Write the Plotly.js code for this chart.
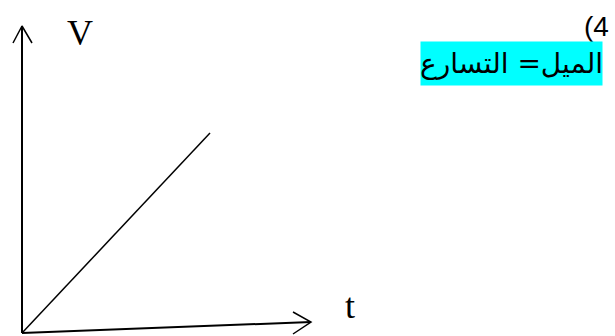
<!DOCTYPE html>
<html>
<head>
<meta charset="utf-8">
<script src="https://cdn.plot.ly/plotly-3.0.1.min.js"></script>
<style>
  html, body { margin: 0; padding: 0; background: #fff; }
  #plot { width: 615px; height: 336px; }
</style>
</head>
<body>
<div id="plot"></div>
<script>
// V-t sketch: origin at (0,0), units roughly in pixels
let vAxisX = [0, 0];
let vAxisY = [0, 307];
let vHeadX = [-9, 0, 10];
let vHeadY = [290, 307, 290];

let tAxisX = [0, 289];
let tAxisY = [0, 11];
let tHeadX = [271, 289, 271];
let tHeadY = [21, 11, -1];

let lineX = [0, 188];
let lineY = [0, 200];

let lineStyle = { color: '#000', width: 2 };

let data = [
    { x: vAxisX, y: vAxisY, mode: 'lines', line: lineStyle },
    { x: vHeadX, y: vHeadY, mode: 'lines', line: { color: '#000', width: 1.5 } },
    { x: tAxisX, y: tAxisY, mode: 'lines', line: lineStyle },
    { x: tHeadX, y: tHeadY, mode: 'lines', line: { color: '#000', width: 1.5 } },
    { x: lineX, y: lineY, mode: 'lines', line: { color: '#000', width: 1.5 } }
];

let layout = {
    width: 615,
    height: 336,
    showlegend: false,
    paper_bgcolor: '#fff',
    plot_bgcolor: '#fff',
    margin: { l: 0, r: 0, t: 0, b: 0, pad: 0 },
    xaxis: { range: [-22, 593], visible: false, fixedrange: true },
    yaxis: { range: [-3, 336 - 3], visible: false, fixedrange: true },
    annotations: [
        {
            x: 58, y: 300, xref: 'x', yref: 'y', text: 'V', showarrow: false,
            font: { family: 'Liberation Serif, Times New Roman, serif', size: 36, color: '#000' }
        },
        {
            x: 328, y: 27, xref: 'x', yref: 'y', text: 't', showarrow: false,
            font: { family: 'Liberation Serif, Times New Roman, serif', size: 36, color: '#000' }
        },
        {
            x: 574, y: 307, xref: 'x', yref: 'y', text: '(4', showarrow: false,
            font: { family: 'Liberation Sans, Arial, sans-serif', size: 28, color: '#000' }
        },
        {
            x: 489.5, y: 269.5, xref: 'x', yref: 'y', text: 'الميل= التسارع', showarrow: false,
            width: 181, height: 43, bgcolor: '#00ffff', borderpad: 0,
            font: { family: 'DejaVu Sans, Liberation Sans, sans-serif', size: 28, color: '#000' }
        }
    ]
};

Plotly.newPlot('plot', data, layout, { staticPlot: true, displayModeBar: false });
</script>
</body>
</html>
